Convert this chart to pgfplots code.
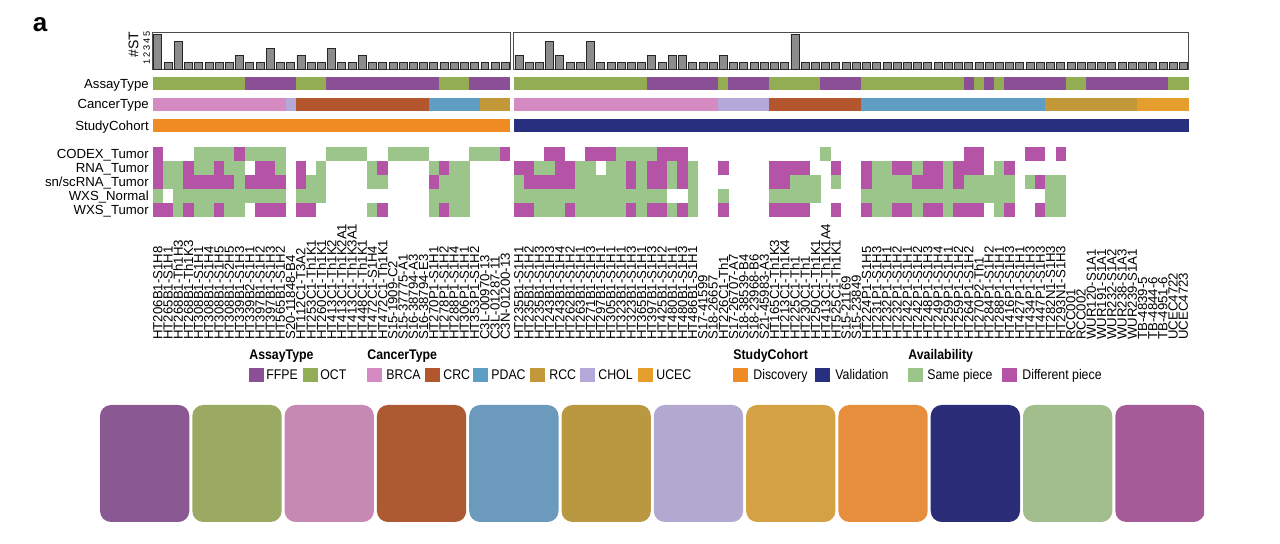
\documentclass[border=0pt]{standalone}
\usepackage{pgfplots}
\pgfplotsset{compat=1.18}
\usepackage{pgfplotstable}
\usepackage{fontspec}
\setmainfont{Liberation Sans}
\newfontfamily\narrowfont[FakeStretch=0.88]{Liberation Sans}

% track colours
\definecolor{cFFPE}{HTML}{8B4F96}
\definecolor{cOCT}{HTML}{93AD55}
\definecolor{cBRCA}{HTML}{D68AC2}
\definecolor{cCRC}{HTML}{B3562E}
\definecolor{cPDAC}{HTML}{5E9EC4}
\definecolor{cRCC}{HTML}{C39838}
\definecolor{cCHOL}{HTML}{B4A8D8}
\definecolor{cUCEC}{HTML}{E69F2E}
\definecolor{cDisc}{HTML}{F08A22}
\definecolor{cVal}{HTML}{27307E}
\definecolor{cSame}{HTML}{9BC58A}
\definecolor{cDiff}{HTML}{B553A6}
% bottom swatches
\definecolor{s1}{HTML}{8A5892}
\definecolor{s2}{HTML}{9AAA62}
\definecolor{s3}{HTML}{C689B3}
\definecolor{s4}{HTML}{AD5A33}
\definecolor{s5}{HTML}{6B9ABD}
\definecolor{s6}{HTML}{BA9842}
\definecolor{s7}{HTML}{B2A8D0}
\definecolor{s8}{HTML}{D5A145}
\definecolor{s9}{HTML}{E78E3C}
\definecolor{s10}{HTML}{2B2D79}
\definecolor{s11}{HTML}{A2BE8C}
\definecolor{s12}{HTML}{A55B98}

\newcommand{\lab}{\fontsize{6.6pt}{7pt}\selectfont}

% one heatmap cell / one annotation cell (10.22px wide)
\pgfdeclareplotmark{hcell}{\pgfpathrectangle{\pgfqpoint{-2.58pt}{-3.53pt}}{\pgfqpoint{5.16pt}{7.06pt}}\pgfusepathqfill}
\pgfdeclareplotmark{scell}{\pgfpathrectangle{\pgfqpoint{-2.58pt}{-3.35pt}}{\pgfqpoint{5.16pt}{6.7pt}}\pgfusepathqfill}
\pgfdeclareplotmark{nocell}{}

\pgfplotsset{
  trkcells/.style={scatter, only marks, scatter src=explicit symbolic},
  trkheat/.style={trkcells, scatter/classes={G={mark=hcell,cSame}, M={mark=hcell,cDiff}, W={mark=nocell}}},
  trkassay/.style={trkcells, scatter/classes={O={mark=scell,cOCT}, F={mark=scell,cFFPE}}},
  trkcancer/.style={trkcells, scatter/classes={B={mark=scell,cBRCA}, C={mark=scell,cCRC}, P={mark=scell,cPDAC},
      R={mark=scell,cRCC}, H={mark=scell,cCHOL}, U={mark=scell,cUCEC}}},
  trkcohort/.style={trkcells, scatter/classes={D={mark=scell,cDisc}, V={mark=scell,cVal}}},
  barax/.style={scale only axis, height=18.75pt, ymin=0, ymax=5.3,
    xmajorticks=false, axis line style={draw=black!70, line width=0.5pt}},
  mainax/.style={scale only axis, height=131.65pt, ymin=-340, ymax=-76.7,
    axis line style={draw=none}, major tick length=0pt, clip=false,
    xticklabel style={rotate=90, anchor=west, inner sep=0pt, font=\lab},
    yticklabel style={anchor=base east, yshift=-2.3pt, inner xsep=1.8pt, inner ysep=0pt, font=\lab}},
}

\begin{document}
% x = column, as/ca/co = AssayType/CancerType/StudyCohort,
% cx rn sc wn wt = CODEX_Tumor RNA_Tumor sn/scRNA_Tumor WXS_Normal WXS_Tumor
\pgfplotstableread[row sep=\\]{
x as ca co cx rn sc wn wt \\
1 O B D M M M G M \\
2 O B D W G G W M \\
3 O B D W G G G G \\
4 O B D W M M G M \\
5 O B D G G M G G \\
6 O B D G G M G G \\
7 O B D G M M G M \\
8 O B D G G M G G \\
9 O B D M G G G G \\
10 F B D G W M G W \\
11 F B D G M M G M \\
12 F B D G M M G M \\
13 F B D G G M G M \\
14 F H D W W W W W \\
15 O C D W M M G M \\
16 O C D W W G G M \\
17 O C D W G G G W \\
18 F C D G W W W W \\
19 F C D G W W W W \\
20 F C D G W W W W \\
21 F C D G W W W W \\
22 F C D W G G W G \\
23 F C D W M G W M \\
24 F C D G W W W W \\
25 F C D G W W W W \\
26 F C D G W W W W \\
27 F C D G W W W W \\
28 F P D W G M G G \\
29 O P D W M G G M \\
30 O P D W G G G G \\
31 O P D W G G G G \\
32 F P D G W W W W \\
33 F R D G W W W W \\
34 F R D G W W W W \\
35 F R D M W W W W \\
}\lefttab

\pgfplotstableread[row sep=\\]{
x as ca co cx rn sc wn wt \\
1 O B V W M G G M \\
2 O B V W M M G M \\
3 O B V W G M G G \\
4 O B V M G M G G \\
5 O B V M M M G G \\
6 O B V W M M G M \\
7 O B V W G G G G \\
8 O B V M G G G G \\
9 O B V M W G G G \\
10 O B V M G G G G \\
11 O B V G G G G G \\
12 O B V G M M G M \\
13 O B V G G G G G \\
14 F B V G M M G M \\
15 F B V M M M G M \\
16 F B V M G G W G \\
17 F B V M M M W M \\
18 F B V W G G G G \\
19 F B V W W W W W \\
20 F B V W W W W W \\
21 O H V W M W G M \\
22 F H V W W W W W \\
23 F H V W W W W W \\
24 F H V W W W W W \\
25 F H V W W W W W \\
26 O C V W M M G M \\
27 O C V W M M G M \\
28 O C V W M G G M \\
29 O C V W M G G M \\
30 O C V W W G G W \\
31 F C V G W W W W \\
32 F C V W M G W M \\
33 F C V W W W W W \\
34 F C V W W W W W \\
35 O P V W M M G M \\
36 O P V W G G G G \\
37 O P V W G G G G \\
38 O P V W M G G M \\
39 O P V W M G G M \\
40 O P V W G M G G \\
41 O P V W M M G M \\
42 O P V W M M G M \\
43 O P V W G G G G \\
44 O P V W M M G M \\
45 F P V M M G G M \\
46 O P V M M G G M \\
47 F P V W W G G W \\
48 O P V W G G G G \\
49 F P V W M G G M \\
50 F P V W W W W W \\
51 F P V M W G W W \\
52 F P V M W M W M \\
53 F R V W W G G G \\
54 F R V M W G G G \\
55 O R V W W W W W \\
56 O R V W W W W W \\
57 F R V W W W W W \\
58 F R V W W W W W \\
59 F R V W W W W W \\
60 F R V W W W W W \\
61 F R V W W W W W \\
62 F U V W W W W W \\
63 F U V W W W W W \\
64 F U V W W W W W \\
65 O U V W W W W W \\
66 O U V W W W W W \\
}\righttab

\begin{tikzpicture}
\useasboundingbox (0,0) rectangle (640pt,-272pt);

\node[font=\fontsize{13pt}{13pt}\selectfont\bfseries] at (20pt,-12.5pt) {a};

% ---- #ST bars
\begin{axis}[barax, at={(76.35pt,-34.75pt)}, anchor=south west, width=178.85pt,
  xmin=0.5, xmax=35.5, ytick={1,2,3,4,5}, yticklabels={1,2,3,4,5}, ytick style={draw=none},
  yticklabel style={rotate=90, anchor=south, inner sep=1.2pt, font=\fontsize{4.6pt}{4.6pt}\selectfont},
  ylabel={\#ST}, ylabel style={at={(ticklabel cs:0.67)}, anchor=south, inner sep=1pt, font=\fontsize{7pt}{7pt}\selectfont}]
\addplot[ybar, bar width=3.99pt, bar shift=0pt, fill=black!45, draw=black!85, line width=0.35pt] coordinates {
(1,5) (2,1) (3,4) (4,1) (5,1) (6,1) (7,1) (8,1) (9,2) (10,1) (11,1) (12,3) (13,1) (14,1) (15,2) (16,1) (17,1) (18,3)
(19,1) (20,1) (21,2) (22,1) (23,1) (24,1) (25,1) (26,1) (27,1) (28,1) (29,1) (30,1) (31,1) (32,1) (33,1) (34,1) (35,1)};
\end{axis}

\begin{axis}[barax, at={(256.9pt,-34.75pt)}, anchor=south west, width=337.35pt,
  xmin=0.5, xmax=66.5, ymajorticks=false]
\addplot[ybar, bar width=3.99pt, bar shift=0pt, fill=black!45, draw=black!85, line width=0.35pt] coordinates {
(1,2) (2,1) (3,1) (4,4) (5,2) (6,1) (7,1) (8,4) (9,1) (10,1) (11,1) (12,1) (13,1) (14,2) (15,1) (16,2) (17,2) (18,1)
(19,1) (20,1) (21,2) (22,1) (23,1) (24,1) (25,1) (26,1) (27,1) (28,5) (29,1) (30,1) (31,1) (32,1) (33,1) (34,1)
(35,1) (36,1) (37,1) (38,1) (39,1) (40,1) (41,1) (42,1) (43,1) (44,1) (45,1) (46,1) (47,1) (48,1) (49,1) (50,1)
(51,1) (52,1) (53,1) (54,1) (55,1) (56,1) (57,1) (58,1) (59,1) (60,1) (61,1) (62,1) (63,1) (64,1) (65,1) (66,1)};
\end{axis}

% ---- annotation tracks and availability heatmap
\begin{axis}[mainax, at={(76.35pt,-170pt)}, anchor=south west, width=178.85pt,
  xmin=0.5, xmax=35.5, xtick={1,...,35},
  xticklabels={HT206B1-S1H8,HT265B1-S1H1,HT268B1-Th1H3,HT268B1-Th1K3,HT308B1-S1H1,HT308B1-S1H4,HT308B1-S1H5,HT308B1-S2H5,HT339B1-S1H3,HT339B2-S1H1,HT397B1-S1H2,HT397B1-S1H3,HT565B1-S1H2,S20-11848-B4,HT112C1-T3A2,HT253C1-Th1K1,HT260C1-Th1K1,HT413C1-Th1K2,HT413C1-Th1K2A1,HT413C1-Th1K3A1,HT448C1-Th1K1,HT472C1-S1H4,HT472C1-Th1K1,S15-1909-C2,S15-37775-A1,S16-38794-A3,S16-38794-E3,HT270P1-S1H1,HT278P1-S1H2,HT288P1-S1H4,HT306P1-S1H1,HT353P1-S1H2,C3L-00970-13,C3L-01287-11,C3N-01200-13},
  ytick={-209.7,-195.7,-181.7,-167.7,-153.7,-125.6,-104.3,-83.5},
  yticklabels={WXS\_Tumor,WXS\_Normal,sn/scRNA\_Tumor,RNA\_Tumor,CODEX\_Tumor,StudyCohort,CancerType,AssayType}]
\addplot[trkassay] table[x=x, y expr=-83.5, meta=as] {\lefttab};
\addplot[trkcancer] table[x=x, y expr=-104.3, meta=ca] {\lefttab};
\addplot[trkcohort] table[x=x, y expr=-125.6, meta=co] {\lefttab};
\addplot[trkheat] table[x=x, y expr=-153.7, meta=cx] {\lefttab};
\addplot[trkheat] table[x=x, y expr=-167.7, meta=rn] {\lefttab};
\addplot[trkheat] table[x=x, y expr=-181.7, meta=sc] {\lefttab};
\addplot[trkheat] table[x=x, y expr=-195.7, meta=wn] {\lefttab};
\addplot[trkheat] table[x=x, y expr=-209.7, meta=wt] {\lefttab};
\end{axis}

\begin{axis}[mainax, at={(256.9pt,-170pt)}, anchor=south west, width=337.35pt,
  xmin=0.5, xmax=66.5, xtick={1,...,66}, ymajorticks=false,
  xticklabels={HT235B1-S1H1,HT235B1-S1H2,HT235B1-S1H3,HT243B1-S1H3,HT243B1-S1H4,HT262B1-S1H2,HT263B1-S1H1,HT271B1-S1H3,HT297B1-S1H1,HT305B1-S1H1,HT323B1-S1H1,HT323B1-S1H3,HT365B1-S1H1,HT397B1-S1H3,HT425B1-S1H2,HT480B1-S1H1,HT480B1-S1H3,HT486B1-S1H1,S17-41599,S18-26657,HT226C1-Th1,S17-26707-A7,S18-38539-B4,S18-23968-B6,S21-45983-A3,HT165C1-Th1K3,HT213C1-Th1K4,HT225C1-Th1,HT230C1-Th1,HT250C1-Th1K1,HT413C1-Th1K1A4,HT525C1-Th1K1,S15-21169,S15-23849,HT224P1-S1H5,HT231P1-S1H3,HT232P1-S1H1,HT232P1-S1H2,HT242P1-S1H1,HT242P1-S1H2,HT248P1-S1H3,HT249P1-S1H4,HT259P1-S1H1,HT259P1-S1H2,HT264P1-S1H2,HT270P2-Th1,HT284P1-S1H2,HT288P1-S1H1,HT416P1-S1H3,HT427P1-S1H1,HT434P1-S1H3,HT447P1-S1H3,HT282N1-S1H3,HT293N1-S1H3,RCC001,RCC002,WUR120-S1A1,WUR191-S1A1,WUR232-S1A2,WUR238-S1A3,WUR239-S1A1,TB-4839-5,TB-4844-6,TB-4951-6,UCEC4722,UCEC4723}]
\addplot[trkassay] table[x=x, y expr=-83.5, meta=as] {\righttab};
\addplot[trkcancer] table[x=x, y expr=-104.3, meta=ca] {\righttab};
\addplot[trkcohort] table[x=x, y expr=-125.6, meta=co] {\righttab};
\addplot[trkheat] table[x=x, y expr=-153.7, meta=cx] {\righttab};
\addplot[trkheat] table[x=x, y expr=-167.7, meta=rn] {\righttab};
\addplot[trkheat] table[x=x, y expr=-181.7, meta=sc] {\righttab};
\addplot[trkheat] table[x=x, y expr=-195.7, meta=wn] {\righttab};
\addplot[trkheat] table[x=x, y expr=-209.7, meta=wt] {\righttab};
\end{axis}

% ---- legend
\begin{scope}[every node/.style={inner sep=0pt, anchor=base west}]
\tikzset{hd/.style={font=\narrowfont\fontsize{7pt}{8pt}\selectfont\bfseries},
         tx/.style={font=\narrowfont\fontsize{7pt}{8pt}\selectfont}}
\node[hd] at (124.5pt,-180pt) {AssayType};
\node[hd] at (183.5pt,-180pt) {CancerType};
\node[hd] at (366.5pt,-180pt) {StudyCohort};
\node[hd] at (454pt,-180pt) {Availability};
\foreach \col/\sx/\tx/\lbl in {cFFPE/249/266/FFPE, cOCT/303/320/OCT, cBRCA/367/386/BRCA, cCRC/425/443/CRC,
  cPDAC/473/491/PDAC, cRCC/530/549/RCC, cCHOL/580/598/CHOL, cUCEC/638/656/UCEC,
  cDisc/733/753/Discovery, cVal/815/835/Validation, cSame/908/927/Same piece, cDiff/1002/1022/Different piece}{
  \fill[\col] (\sx*0.5pt,-184pt) rectangle (\sx*0.5pt+7.5pt,-191pt);
  \node[tx] at (\tx*0.5pt,-190pt) {\lbl};
}
\end{scope}

% ---- colour swatches
\begin{axis}[at={(50pt,-261pt)}, anchor=south west, scale only axis, width=552pt, height=58.5pt,
  xmin=100, xmax=1204, ymin=0, ymax=1, hide axis]
\addplot[ybar, bar width=44.65pt, fill=s1, draw=none, bar shift=0pt, rounded corners=5.5pt] coordinates {(144.65,1)};
\addplot[ybar, bar width=44.65pt, fill=s2, draw=none, bar shift=0pt, rounded corners=5.5pt] coordinates {(236.95,1)};
\addplot[ybar, bar width=44.65pt, fill=s3, draw=none, bar shift=0pt, rounded corners=5.5pt] coordinates {(329.25,1)};
\addplot[ybar, bar width=44.65pt, fill=s4, draw=none, bar shift=0pt, rounded corners=5.5pt] coordinates {(421.55,1)};
\addplot[ybar, bar width=44.65pt, fill=s5, draw=none, bar shift=0pt, rounded corners=5.5pt] coordinates {(513.85,1)};
\addplot[ybar, bar width=44.65pt, fill=s6, draw=none, bar shift=0pt, rounded corners=5.5pt] coordinates {(606.15,1)};
\addplot[ybar, bar width=44.65pt, fill=s7, draw=none, bar shift=0pt, rounded corners=5.5pt] coordinates {(698.45,1)};
\addplot[ybar, bar width=44.65pt, fill=s8, draw=none, bar shift=0pt, rounded corners=5.5pt] coordinates {(790.75,1)};
\addplot[ybar, bar width=44.65pt, fill=s9, draw=none, bar shift=0pt, rounded corners=5.5pt] coordinates {(883.05,1)};
\addplot[ybar, bar width=44.65pt, fill=s10, draw=none, bar shift=0pt, rounded corners=5.5pt] coordinates {(975.35,1)};
\addplot[ybar, bar width=44.65pt, fill=s11, draw=none, bar shift=0pt, rounded corners=5.5pt] coordinates {(1067.65,1)};
\addplot[ybar, bar width=44.65pt, fill=s12, draw=none, bar shift=0pt, rounded corners=5.5pt] coordinates {(1159.95,1)};
\end{axis}
\end{tikzpicture}
\end{document}
